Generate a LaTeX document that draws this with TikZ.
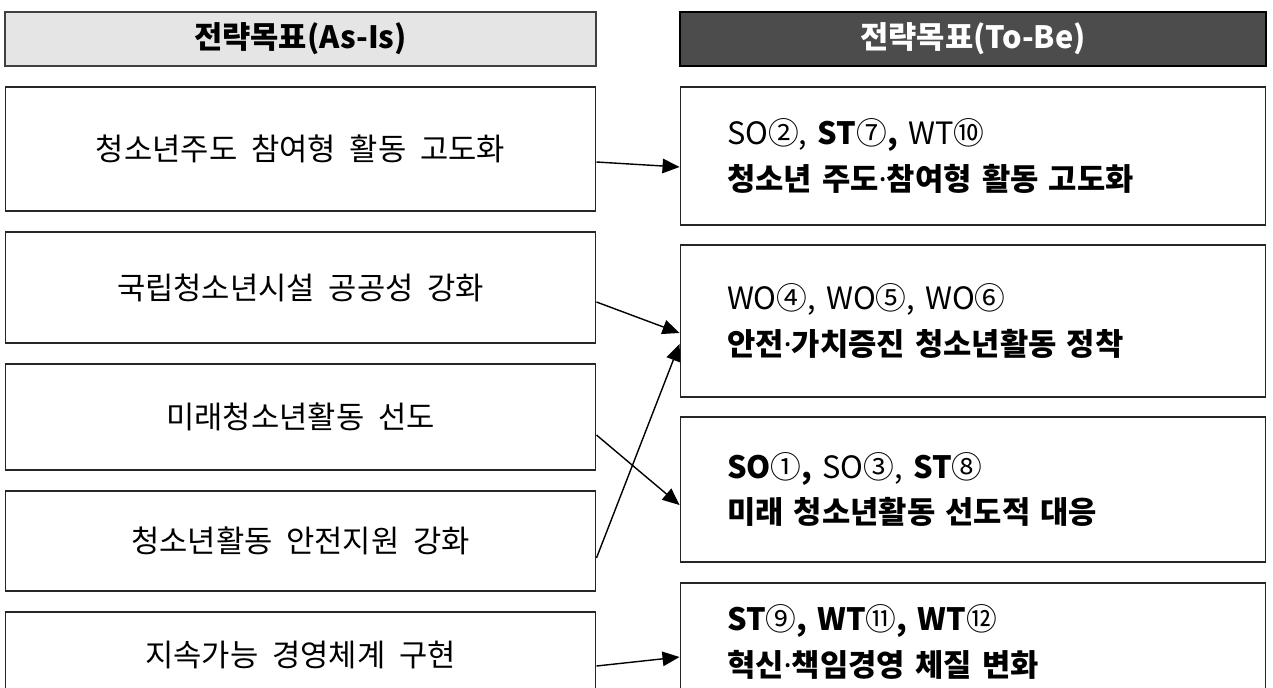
\documentclass[tikz,border=0pt]{standalone}
\usepackage{fontspec}
\setmainfont{Noto Sans CJK KR}[WordSpace=2.0]
\newfontfamily\dotfont{Noto Sans}
\newcommand{\mdot}{{\dotfont ·}}
\usetikzlibrary{arrows.meta, calc, positioning}
\tikzstyle{headold} = [rectangle, line width=0.8pt, draw=black!75, fill=black!10, minimum width=11.82cm, minimum height=1.08cm, text centered, font=\bfseries\fontsize{17.5}{20}\selectfont]
\tikzstyle{headnew} = [rectangle, line width=0.8pt, draw=black, fill=black!70, text=white, minimum width=11.72cm, minimum height=1.08cm, text centered, font=\bfseries\fontsize{17.5}{20}\selectfont]
\tikzstyle{goal} = [rectangle, line width=0.6pt, draw=black!85, minimum width=11.82cm, text centered, font=\fontsize{17.5}{20}\selectfont]
\tikzstyle{target} = [rectangle, line width=0.6pt, draw=black!85, text width=9.84cm, inner xsep=0.94cm, align=left, font=\fontsize{17.5}{26}\selectfont]
\tikzstyle{arrow} = [line width=0.8pt, -{Triangle[length=3.4mm, width=2.9mm]}]

\begin{document}
\begin{tikzpicture}[x=0.02cm, y=-0.02cm]
	\useasboundingbox (0,0) rectangle (1273,687);
	% headers
	\node (HeadAsIs) [headold] at (300.5,39) {전략목표(As-Is)};
	\node (HeadToBe) [headnew] at (973,39) {전략목표(To-Be)};
	% as-is goals
	\node (AsIs1) [goal, minimum height=2.48cm] at (300.5,149) {청소년주도 참여형 활동 고도화};
	\node (AsIs2) [goal, minimum height=2.22cm] at (300.5,287.5) {국립청소년시설 공공성 강화};
	\node (AsIs3) [goal, minimum height=2.12cm] at (300.5,417) {미래청소년활동 선도};
	\node (AsIs4) [goal, minimum height=2.0cm] at (300.5,541) {청소년활동 안전지원 강화};
	\node (AsIs5) [goal, minimum height=1.72cm] at (300.5,655) {지속가능 경영체계 구현};
	% to-be goals
	\node (ToBe1) [target, minimum height=2.76cm] at (973,156) {SO②, \textbf{ST}⑦\textbf{,} WT⑩\\\textbf{청소년 주도\mdot 참여형 활동 고도화}};
	\node (ToBe2) [target, minimum height=3.04cm] at (973,321) {WO④, WO⑤, WO⑥\\\textbf{안전\mdot 가치증진 청소년활동 정착}};
	\node (ToBe3) [target, minimum height=2.9cm] at (973,489.5) {\textbf{SO}①\textbf{,} SO③, \textbf{ST}⑧\\\textbf{미래 청소년활동 선도적 대응}};
	\node (ToBe4) [target, minimum height=2.36cm] at (973,642) {\textbf{ST}⑨\textbf{,} \textbf{WT}⑪\textbf{,} \textbf{WT}⑫\\\textbf{혁신\mdot 책임경영 체질 변화}};
	% links
	\draw [arrow] ([yshift=-0.26cm]AsIs1.east) -- ([yshift=-0.22cm]ToBe1.west);
	\draw [arrow] ([yshift=-0.29cm]AsIs2.east) -- ([yshift=-0.24cm]ToBe2.west);
	\draw [arrow] ([yshift=-0.36cm]AsIs3.east) -- ([yshift=-0.31cm]ToBe3.west);
	\draw [arrow] ([yshift=-0.34cm]AsIs4.east) -- ([yshift=-0.46cm]ToBe2.west);
	\draw [arrow] ([yshift=-0.22cm]AsIs5.east) -- ([yshift=-0.30cm]ToBe4.west);
\end{tikzpicture}
\end{document}
